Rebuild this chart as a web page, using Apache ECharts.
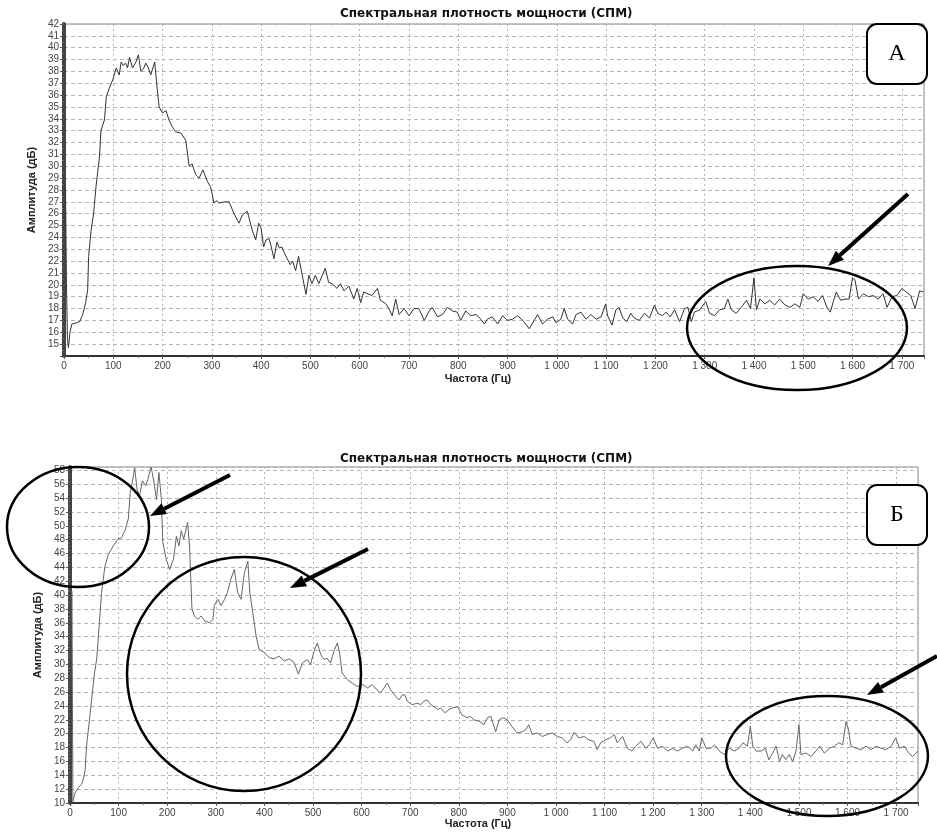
<!DOCTYPE html>
<html>
<head>
<meta charset="utf-8">
<title>СПМ</title>
<script src="https://cdn.jsdelivr.net/npm/echarts@6/dist/echarts.min.js"></script>
<style>
  html, body { margin: 0; padding: 0; background: #fff; }
  #main { width: 937px; height: 832px; }
</style>
</head>
<body>
<div id="main"></div>
<script>
// Спектральная плотность мощности, два замера (А и Б)
var titleText = 'Спектральная плотность мощности (СПМ)';
var xName = 'Частота (Гц)';
var yName = 'Амплитуда (дБ)';

// график А: частота (Гц) и амплитуда (дБ)
var freqA = [3, 5, 7, 9, 12, 16, 25, 32, 38, 44, 48, 50, 55, 60, 65, 72, 75, 82, 86, 92,
  99, 106, 112, 116, 120, 125, 129, 133, 139, 146, 151, 156, 161, 166, 171, 176, 184, 188, 193, 200,
  207, 213, 220, 227, 237, 247, 254, 260, 267, 274, 282, 291, 297, 301, 304, 310, 315, 325, 335, 345,
  355, 362, 372, 377, 382, 389, 395, 400, 405, 410, 416, 420, 426, 432, 437, 442, 447, 453, 459, 464,
  470, 476, 483, 491, 497, 503, 510, 517, 524, 530, 537, 544, 554, 561, 568, 578, 588, 595, 602, 608,
  619, 625, 636, 642, 653, 659, 666, 673, 680, 690, 700, 710, 720, 731, 741, 747, 758, 768, 778, 788,
  798, 805, 815, 825, 836, 846, 853, 859, 869, 880, 890, 900, 910, 920, 931, 944, 954, 961, 971, 981,
  992, 998, 1008, 1015, 1022, 1032, 1039, 1049, 1059, 1069, 1080, 1090, 1099, 1103, 1112, 1120, 1126, 1134, 1142, 1150,
  1157, 1167, 1178, 1188, 1198, 1205, 1214, 1222, 1230, 1239, 1249, 1259, 1266, 1273, 1279, 1290, 1302, 1310, 1320, 1330,
  1340, 1347, 1354, 1364, 1374, 1385, 1393, 1400, 1405, 1412, 1422, 1432, 1442, 1452, 1463, 1473, 1483, 1493, 1500, 1510,
  1520, 1530, 1539, 1549, 1555, 1561, 1567, 1576, 1585, 1593, 1600, 1605, 1612, 1622, 1632, 1642, 1652, 1662, 1670, 1680,
  1690, 1700, 1709, 1718, 1727, 1736, 1744];
var ampA = [28.2, 20, 15.5, 14.7, 16, 16.7, 16.8, 16.9, 17.5, 18.5, 19.6, 22.4, 24.6, 26, 28.3, 30.8, 33, 33.9, 35.9, 36.6,
  37.3, 38.3, 37.7, 38.8, 38.5, 38.7, 38.3, 39.2, 38.3, 38.8, 39.4, 38, 38.2, 38.7, 38.3, 37.7, 38.8, 37, 35, 34.5,
  34.7, 33.9, 33.3, 32.9, 32.8, 32.2, 30, 30.2, 29.3, 29, 29.7, 28.7, 28.3, 27.6, 26.9, 27.1, 26.9, 27.0, 27.0, 26.0,
  25.2, 25.9, 26.2, 25.4, 24.6, 23.8, 25.2, 24.8, 23.2, 23.8, 23.9, 23.3, 22.2, 23.6, 23.1, 23.2, 22.7, 22.2, 21.7, 22.0,
  21.2, 22.4, 20.9, 19.2, 20.8, 20.1, 20.8, 20.1, 20.8, 21.4, 20.2, 20.1, 19.7, 20.1, 19.5, 19.9, 18.8, 19.7, 18.5, 19.4,
  19.2, 19.1, 19.7, 18.7, 18.4, 18.0, 17.4, 18.8, 17.5, 18.0, 17.4, 18.0, 18.0, 17.0, 17.8, 18.1, 17.3, 17.5, 18.1, 17.8,
  17.7, 17.0, 17.8, 17.4, 17.5, 17.1, 16.7, 17.1, 17.3, 16.7, 17.4, 17.0, 17.1, 17.4, 17.0, 16.3, 17.0, 17.5, 16.7, 17.1,
  17.3, 16.8, 17.1, 18.0, 17.1, 16.7, 17.5, 17.7, 17.1, 17.5, 17.1, 17.3, 18.4, 17.4, 16.6, 17.9, 18.1, 17.2, 16.9, 17.6,
  17.2, 17.0, 17.6, 17.2, 18.3, 17.6, 17.4, 17.7, 17.3, 17.9, 16.9, 18.0, 18.1, 16.9, 17.7, 17.9, 18.6, 17.6, 17.4, 17.9,
  18.0, 18.8, 17.9, 17.6, 18.1, 18.7, 18.0, 20.6, 17.9, 18.8, 18.4, 18.7, 18.3, 18.8, 18.3, 18.1, 18.4, 18.1, 19.25, 18.8,
  19.0, 18.6, 19.1, 18.0, 17.7, 18.6, 19.4, 18.7, 18.8, 18.8, 20.6, 20.4, 18.8, 19.25, 19.0, 19.1, 18.8, 19.25, 18.1, 19.0,
  19.1, 19.7, 19.4, 19.1, 18.0, 19.5, 19.4];

// график Б
var freqB = [4, 5, 6, 10, 17, 24, 27, 31, 34, 40, 46, 50, 55, 60, 65, 72, 79, 89, 99, 106,
  113, 120, 124, 130, 133, 138, 143, 149, 156, 160, 167, 173, 178, 183, 188, 191, 198, 205, 213, 219,
  224, 229, 234, 242, 246, 251, 256, 263, 270, 277, 287, 294, 297, 304, 311, 318, 324, 331, 338, 345,
  352, 359, 366, 370, 376, 383, 389, 400, 410, 420, 430, 441, 451, 461, 470, 478, 488, 495, 502, 509,
  516, 523, 529, 536, 543, 550, 555, 560, 571, 581, 591, 602, 612, 622, 632, 639, 646, 653, 660, 670,
  677, 684, 689, 694, 704, 715, 722, 728, 735, 742, 749, 756, 763, 772, 780, 787, 797, 807, 818, 824,
  831, 842, 852, 859, 866, 876, 883, 891, 900, 910, 920, 931, 938, 944, 951, 962, 972, 982, 992, 1003,
  1013, 1023, 1030, 1037, 1047, 1058, 1068, 1078, 1085, 1092, 1102, 1112, 1120, 1126, 1137, 1147, 1156, 1164, 1175, 1185,
  1192, 1200, 1209, 1219, 1230, 1240, 1250, 1260, 1271, 1281, 1288, 1295, 1300, 1309, 1319, 1326, 1336, 1346, 1357, 1367,
  1377, 1385, 1394, 1400, 1405, 1412, 1422, 1431, 1438, 1446, 1453, 1460, 1466, 1473, 1480, 1487, 1494, 1500, 1504, 1515,
  1525, 1535, 1543, 1552, 1563, 1573, 1582, 1590, 1597, 1602, 1607, 1618, 1628, 1638, 1648, 1659, 1669, 1679, 1690, 1699,
  1707, 1717, 1726, 1734, 1745];
var ampB = [40.6, 25, 10.2, 11.4, 12.2, 12.7, 13.4, 14.6, 18.2, 22, 25.9, 28.5, 30.8, 35.6, 40.4, 44.2, 45.9, 47.1, 48.1, 48.3,
  49.3, 51, 54.8, 57, 58.4, 55.3, 54.3, 56.5, 55.8, 56.7, 58.5, 56.2, 53.8, 57.7, 53.8, 47.6, 45.2, 43.7, 45.2, 48.5,
  47.1, 49.3, 48.1, 50.5, 47.1, 38, 37, 36.5, 37, 36.3, 36, 36.5, 38.5, 39.4, 38.5, 39.4, 40.4, 42.3, 43.7, 40.4,
  39.4, 43.3, 44.9, 40.4, 37.5, 34.1, 32.2, 31.7, 31, 30.8, 31.2, 30.5, 30.8, 30.3, 28.6, 30.2, 30.7, 30.0, 31.9, 33.1,
  31.4, 30.7, 30.9, 30.2, 31.9, 33.1, 31.6, 28.75, 27.8, 27.3, 26.8, 27.1, 26.6, 27.1, 26.3, 25.9, 26.6, 27.3, 26.3, 25.4,
  24.9, 25.6, 25.6, 24.7, 24.2, 24.4, 24.2, 24.7, 24.9, 24.2, 23.9, 23.5, 23.7, 23.0, 23.5, 23.7, 23.9, 22.7, 22.3, 22.5,
  22.0, 21.8, 21.3, 22.3, 22.5, 20.3, 22.0, 22.3, 22.0, 21.0, 20.1, 20.3, 20.6, 21.3, 19.9, 20.1, 19.6, 19.9, 20.1, 19.6,
  19.4, 18.7, 19.1, 20.2, 19.4, 19.6, 19.1, 18.9, 17.7, 18.7, 19.1, 19.4, 19.9, 18.7, 19.6, 17.9, 17.5, 18.2, 18.9, 17.9,
  18.4, 19.4, 17.9, 18.2, 17.5, 17.9, 17.5, 17.9, 18.2, 17.5, 18.4, 17.5, 19.4, 17.9, 17.9, 18.4, 17.5, 17.0, 17.9, 17.5,
  17.9, 18.7, 18.2, 21.1, 18.2, 17.5, 17.5, 17.9, 16.25, 17.2, 18.2, 16.0, 17.0, 16.25, 17.0, 16.0, 17.5, 21.3, 17.0, 17.2,
  16.7, 17.5, 18.2, 17.2, 17.9, 18.2, 18.7, 18.4, 21.8, 20.6, 18.2, 17.9, 17.7, 18.2, 17.7, 18.2, 17.9, 17.7, 18.2, 19.4,
  17.9, 18.2, 17.2, 16.7, 17.5];

function pairs(xs, ys) {
  var out = [];
  for (var i = 0; i < xs.length; i++) out.push([xs[i], ys[i]]);
  return out;
}

// подписи частот: 1 000, 1 100 ...
function fmtFreq(v) {
  if (v % 100 !== 0) return '';
  if (v < 1000) return String(v);
  return Math.floor(v / 1000) + ' ' + String(v % 1000).padStart(3, '0');
}

var font = 'Liberation Sans';
var labelStyle = { fontSize: 10, color: '#444', fontFamily: font };
var nameStyle = { fontSize: 11, fontWeight: 'bold', color: '#222', fontFamily: font };
var titleStyle = { fontSize: 12, fontWeight: 'bold', color: '#111', fontFamily: 'DejaVu Sans' };

function xAxisFor(idx, gap) {
  return {
    gridIndex: idx, type: 'value', min: 0, max: 1745, interval: 100,
    name: xName, nameLocation: 'middle', nameGap: gap,
    nameTextStyle: Object.assign({ padding: [0, 32, 0, 0] }, nameStyle),
    axisLine: { onZero: false, lineStyle: { color: '#333', width: 2 } },
    axisTick: { show: true, length: 3, lineStyle: { color: '#555' } },
    minorTick: { show: true, splitNumber: 2, length: 2, lineStyle: { color: '#777' } },
    axisLabel: Object.assign({ formatter: fmtFreq, margin: 5 }, labelStyle),
    splitLine: { show: true, lineStyle: { color: '#b4b4b4', type: [2, 3], width: 1 } }
  };
}

// hideMin: у графика А нижняя подпись (14) не выводится
function yAxisFor(idx, min, max, step, gap, minor, hideMin) {
  return {
    gridIndex: idx, type: 'value', min: min, max: max, interval: step,
    name: yName, nameLocation: 'middle', nameGap: gap, nameRotate: 90,
    nameTextStyle: nameStyle,
    axisLine: { show: true, onZero: false, lineStyle: { color: '#444', width: 4 } },
    axisTick: { show: true, length: 4, lineStyle: { color: '#555' } },
    minorTick: { show: true, splitNumber: minor, length: 2, lineStyle: { color: '#666' } },
    axisLabel: Object.assign({
      margin: 5,
      formatter: function (v) {
        if (hideMin && v === min) return '';
        return v % step !== 0 ? '' : String(v);
      }
    }, labelStyle),
    splitLine: { show: true, lineStyle: { color: '#b4b4b4', type: [4, 3], width: 1 } }
  };
}

// стрелка: линия + треугольный наконечник
function arrow(x1, y1, x2, y2) {
  var dx = x2 - x1, dy = y2 - y1;
  var len = Math.sqrt(dx * dx + dy * dy);
  var ux = dx / len, uy = dy / len;
  var hl = 16, hw = 6;
  var bx = x2 - ux * hl, by = y2 - uy * hl;
  return [
    { type: 'line', z: 100, shape: { x1: x1, y1: y1, x2: bx, y2: by },
      style: { stroke: '#000', lineWidth: 4 } },
    { type: 'polygon', z: 100,
      shape: { points: [[x2, y2], [bx - uy * hw, by + ux * hw], [bx + uy * hw, by - ux * hw]] },
      style: { fill: '#000' } }
  ];
}

function ring(cx, cy, rx, ry) {
  return { type: 'ellipse', z: 100, shape: { cx: cx, cy: cy, rx: rx, ry: ry },
    style: { fill: 'none', stroke: '#000', lineWidth: 2.5 } };
}

function tag(x, y, letter) {
  return [
    { type: 'rect', z: 100, shape: { x: x, y: y, width: 60, height: 60, r: 10 },
      style: { fill: '#fff', stroke: '#000', lineWidth: 2 } },
    { type: 'text', z: 101, x: x + 30, y: y + 30,
      style: { text: letter, fill: '#000', font: '24px "Liberation Serif"', align: 'center', verticalAlign: 'middle' } }
  ];
}

var graphics = [].concat(
  tag(867, 24, 'А'),
  ring(797, 328, 110, 62),
  arrow(908, 194, 828, 266),
  tag(867, 485, 'Б'),
  ring(78, 527, 71, 60),
  ring(244, 674, 117, 117),
  ring(827, 756, 101, 60),
  arrow(230, 475, 150, 516),
  arrow(368, 549, 290, 588),
  arrow(937, 656, 867, 695)
);

var myChart = echarts.init(document.getElementById('main'));

var option = {
  animation: false,
  backgroundColor: '#fff',
  title: [
    { text: titleText, left: 335, top: 3, textStyle: titleStyle },
    { text: titleText, left: 335, top: 448, textStyle: titleStyle }
  ],
  grid: [
    { left: 64, top: 24, width: 860, height: 332, show: true, borderColor: '#888', borderWidth: 1 },
    { left: 70, top: 467, width: 848, height: 336, show: true, borderColor: '#888', borderWidth: 1 }
  ],
  xAxis: [xAxisFor(0, 17), xAxisFor(1, 15)],
  yAxis: [yAxisFor(0, 14, 42, 1, 20, 2, true), yAxisFor(1, 10, 58.5, 2, 22, 4, false)],
  series: [
    { name: 'А', type: 'line', xAxisIndex: 0, yAxisIndex: 0, data: pairs(freqA, ampA),
      showSymbol: false, lineStyle: { color: '#333', width: 1 } },
    { name: 'Б', type: 'line', xAxisIndex: 1, yAxisIndex: 1, data: pairs(freqB, ampB),
      showSymbol: false, lineStyle: { color: '#666', width: 1 } }
  ],
  graphic: graphics
};

myChart.setOption(option);
window.onresize = myChart.resize;
</script>
</body>
</html>
